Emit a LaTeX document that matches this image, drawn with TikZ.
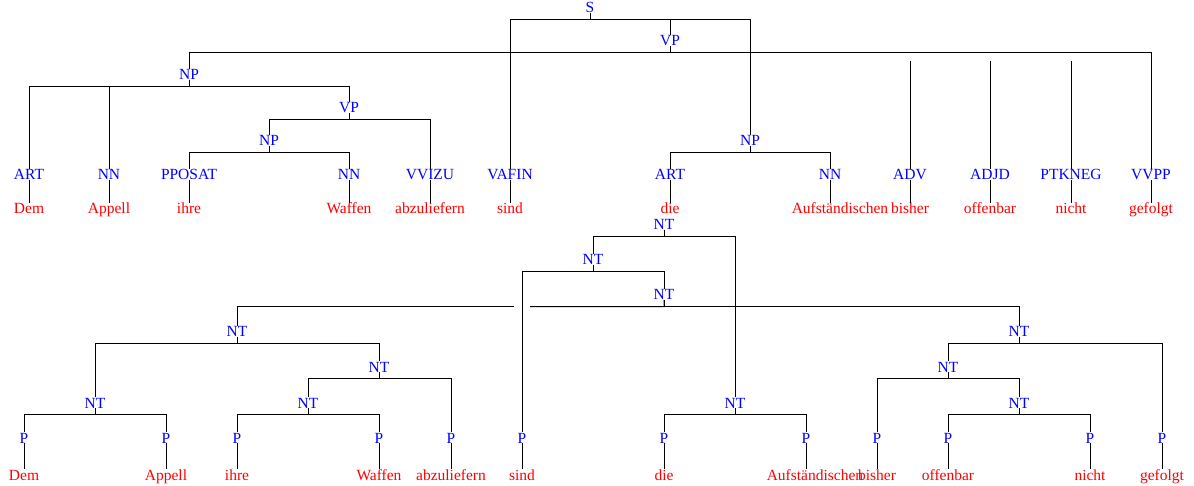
\documentclass[tikz,border=0pt]{standalone}
\usepackage{fontspec}
\setmainfont{Liberation Serif}
\tikzstyle{cat} = [anchor=base, inner sep=0pt, text height=10.5pt, text depth=0pt, text=blue, font=\fontsize{15.5}{18}\selectfont]
\tikzstyle{word} = [cat, text=red]
\tikzstyle{branch} = [line width=1pt, black]

\begin{document}
\begin{tikzpicture}[x=1pt, y=-1pt]
\useasboundingbox (0,0) rectangle (1194,486);

% upper tree
\node (s) [cat] at (590,13) {S};
\node (vp1) [cat] at (670,46) {VP};
\node (np1) [cat] at (189,79.5) {NP};
\node (vp2) [cat] at (349,113) {VP};
\node (np2) [cat] at (269,146) {NP};
\node (np3) [cat] at (750,146) {NP};

\node (art1) [cat] at (29,179.5) {ART};
\node (nn1) [cat] at (109,179.5) {NN};
\node (pposat) [cat] at (189,179.5) {PPOSAT};
\node (nn2) [cat] at (349,179.5) {NN};
\node (vvizu) [cat] at (430,179.5) {VVIZU};
\node (vafin) [cat] at (510,179.5) {VAFIN};
\node (art2) [cat] at (670,179.5) {ART};
\node (nn3) [cat] at (830,179.5) {NN};
\node (adv) [cat] at (910,179.5) {ADV};
\node (adjd) [cat] at (990,179.5) {ADJD};
\node (ptkneg) [cat] at (1071,179.5) {PTKNEG};
\node (vvpp) [cat] at (1151,179.5) {VVPP};

\node (dem1) [word] at (29,214) {Dem};
\node (appell1) [word] at (109,214) {Appell};
\node (ihre1) [word] at (189,214) {ihre};
\node (waffen1) [word] at (349,214) {Waffen};
\node (abzuliefern1) [word] at (430,214) {abzuliefern};
\node (sind1) [word] at (510,214) {sind};
\node (die1) [word] at (670,214) {die};
\node (aufst1) [word] at (840,214) {Aufständischen};
\node (bisher1) [word] at (910,214) {bisher};
\node (offenbar1) [word] at (990,214) {offenbar};
\node (nicht1) [word] at (1071,214) {nicht};
\node (gefolgt1) [word] at (1151,214) {gefolgt};

\coordinate (advtop) at (910,61);
\coordinate (adjdtop) at (990,61);
\coordinate (ptknegtop) at (1071,61);

\draw [branch] (s.south) -- ++(0,6.5) -| (vafin.north);
\draw [branch] (s.south) -- ++(0,6.5) -| (vp1.north);
\draw [branch] (s.south) -- ++(0,6.5) -| (np3.north);
\draw [branch] (vp1.south) -- ++(0,6.5) -| (np1.north);
\draw [branch] (vp1.south) -- ++(0,6.5) -| (vvpp.north);
\draw [branch] (advtop) -- (adv.north);
\draw [branch] (adjdtop) -- (adjd.north);
\draw [branch] (ptknegtop) -- (ptkneg.north);
\draw [branch] (np1.south) -- ++(0,6.5) -| (art1.north);
\draw [branch] (np1.south) -- ++(0,6.5) -| (nn1.north);
\draw [branch] (np1.south) -- ++(0,6.5) -| (vp2.north);
\draw [branch] (vp2.south) -- ++(0,6.5) -| (np2.north);
\draw [branch] (vp2.south) -- ++(0,6.5) -| (vvizu.north);
\draw [branch] (np2.south) -- ++(0,6.5) -| (pposat.north);
\draw [branch] (np2.south) -- ++(0,6.5) -| (nn2.north);
\draw [branch] (np3.south) -- ++(0,6.5) -| (art2.north);
\draw [branch] (np3.south) -- ++(0,6.5) -| (nn3.north);

\draw [branch] (art1.south) -- (art1.south |- dem1.north);
\draw [branch] (nn1.south) -- (nn1.south |- appell1.north);
\draw [branch] (pposat.south) -- (pposat.south |- ihre1.north);
\draw [branch] (nn2.south) -- (nn2.south |- waffen1.north);
\draw [branch] (vvizu.south) -- (vvizu.south |- abzuliefern1.north);
\draw [branch] (vafin.south) -- (vafin.south |- sind1.north);
\draw [branch] (art2.south) -- (art2.south |- die1.north);
\draw [branch] (nn3.south) -- (nn3.south |- aufst1.north);
\draw [branch] (adv.south) -- (adv.south |- bisher1.north);
\draw [branch] (adjd.south) -- (adjd.south |- offenbar1.north);
\draw [branch] (ptkneg.south) -- (ptkneg.south |- nicht1.north);
\draw [branch] (vvpp.south) -- (vvpp.south |- gefolgt1.north);

% lower tree
\node (nt1) [cat] at (664,229.5) {NT};
\node (nt2) [cat] at (593,264.5) {NT};
\node (nt3) [cat] at (664,300) {NT};
\node (nt4) [cat] at (237,336.5) {NT};
\node (nt5) [cat] at (1019,336.5) {NT};
\node (nt6) [cat] at (379,372) {NT};
\node (nt7) [cat] at (948,372) {NT};
\node (nt8) [cat] at (95,408) {NT};
\node (nt9) [cat] at (308,408) {NT};
\node (nt10) [cat] at (735,408) {NT};
\node (nt11) [cat] at (1019,408) {NT};

\node (p1) [cat] at (24,443) {P};
\node (p2) [cat] at (166,443) {P};
\node (p3) [cat] at (237,443) {P};
\node (p4) [cat] at (379,443) {P};
\node (p5) [cat] at (451,443) {P};
\node (p6) [cat] at (522,443) {P};
\node (p7) [cat] at (664,443) {P};
\node (p8) [cat] at (806,443) {P};
\node (p9) [cat] at (877,443) {P};
\node (p10) [cat] at (948,443) {P};
\node (p11) [cat] at (1090,443) {P};
\node (p12) [cat] at (1162,443) {P};

\node (dem2) [word] at (24,480) {Dem};
\node (appell2) [word] at (166,480) {Appell};
\node (ihre2) [word] at (237,480) {ihre};
\node (waffen2) [word] at (379,480) {Waffen};
\node (abzuliefern2) [word] at (451,480) {abzuliefern};
\node (sind2) [word] at (522,480) {sind};
\node (die2) [word] at (664,480) {die};
\node (aufst2) [word] at (815,480) {Aufständischen};
\node (bisher2) [word] at (877,480) {bisher};
\node (offenbar2) [word] at (948,480) {offenbar};
\node (nicht2) [word] at (1090,480) {nicht};
\node (gefolgt2) [word] at (1162,480) {gefolgt};

\coordinate (gapl) at (514,306.5);
\coordinate (gapr) at (530,306.5);

\draw [branch] (nt1.south) -- ++(0,6.5) -| (nt2.north);
\draw [branch] (nt1.south) -- ++(0,6.5) -| (nt10.north);
\draw [branch] (nt2.south) -- ++(0,6.5) -| (p6.north);
\draw [branch] (nt2.south) -- ++(0,6.5) -| (nt3.north);
\draw [branch] (nt3.south) -- ++(0,6.5) -- (gapr);
\draw [branch] (gapl) -| (nt4.north);
\draw [branch] (nt3.south) -- ++(0,6.5) -| (nt5.north);
\draw [branch] (nt4.south) -- ++(0,6.5) -| (nt8.north);
\draw [branch] (nt4.south) -- ++(0,6.5) -| (nt6.north);
\draw [branch] (nt8.south) -- ++(0,6.5) -| (p1.north);
\draw [branch] (nt8.south) -- ++(0,6.5) -| (p2.north);
\draw [branch] (nt6.south) -- ++(0,6.5) -| (nt9.north);
\draw [branch] (nt6.south) -- ++(0,6.5) -| (p5.north);
\draw [branch] (nt9.south) -- ++(0,6.5) -| (p3.north);
\draw [branch] (nt9.south) -- ++(0,6.5) -| (p4.north);
\draw [branch] (nt10.south) -- ++(0,6.5) -| (p7.north);
\draw [branch] (nt10.south) -- ++(0,6.5) -| (p8.north);
\draw [branch] (nt5.south) -- ++(0,6.5) -| (nt7.north);
\draw [branch] (nt5.south) -- ++(0,6.5) -| (p12.north);
\draw [branch] (nt7.south) -- ++(0,6.5) -| (p9.north);
\draw [branch] (nt7.south) -- ++(0,6.5) -| (nt11.north);
\draw [branch] (nt11.south) -- ++(0,6.5) -| (p10.north);
\draw [branch] (nt11.south) -- ++(0,6.5) -| (p11.north);

\draw [branch] (p1.south) -- (p1.south |- dem2.north);
\draw [branch] (p2.south) -- (p2.south |- appell2.north);
\draw [branch] (p3.south) -- (p3.south |- ihre2.north);
\draw [branch] (p4.south) -- (p4.south |- waffen2.north);
\draw [branch] (p5.south) -- (p5.south |- abzuliefern2.north);
\draw [branch] (p6.south) -- (p6.south |- sind2.north);
\draw [branch] (p7.south) -- (p7.south |- die2.north);
\draw [branch] (p8.south) -- (p8.south |- aufst2.north);
\draw [branch] (p9.south) -- (p9.south |- bisher2.north);
\draw [branch] (p10.south) -- (p10.south |- offenbar2.north);
\draw [branch] (p11.south) -- (p11.south |- nicht2.north);
\draw [branch] (p12.south) -- (p12.south |- gefolgt2.north);
\end{tikzpicture}
\end{document}
